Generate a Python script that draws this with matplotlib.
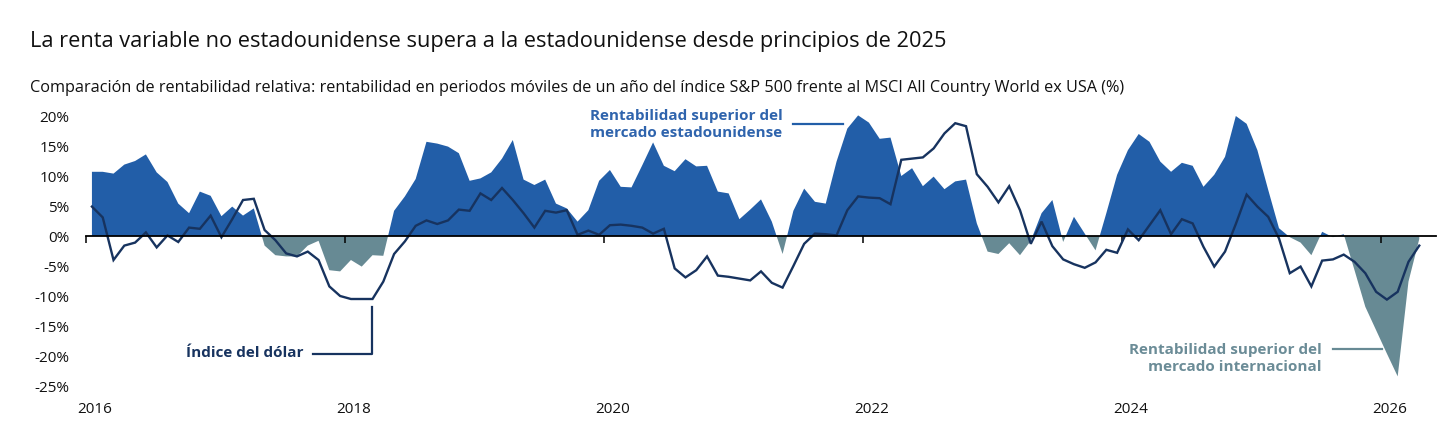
import numpy as np
import matplotlib
matplotlib.use("Agg")
import matplotlib.pyplot as plt
from matplotlib.transforms import ScaledTranslation
from matplotlib.lines import Line2D

plt.rcParams['font.family'] = ['Open Sans', 'DejaVu Sans']

# ---------------- data ----------------
title = "La renta variable no estadounidense supera a la estadounidense desde principios de 2025"
subtitle = ("Comparación de rentabilidad relativa: rentabilidad en periodos móviles de un año del índice "
            "S&P 500 frente al MSCI All Country World ex USA (%)")

year_labels = ["2016", "2018", "2020", "2022", "2024", "2026"]
year_ticks = [0, 24, 48, 72, 96, 120]          # months since Jan 2016
ytick_vals = [20, 15, 10, 5, 0, -5, -10, -15, -20, -25]

# S&P 500 minus MSCI ACWI ex USA, rolling 1-year (%), monthly from Jan 2016
relative = [
    10.7, 10.7, 10.4, 11.9, 12.5, 13.6, 10.6, 9.0, 5.4, 3.8, 7.4, 6.7,
    3.3, 4.9, 3.4, 4.6, -1.6, -3.2, -3.4, -3.4, -1.6, -0.8, -5.7, -5.9,
    -4.0, -5.1, -3.2, -3.3, 4.2, 6.6, 9.5, 15.7, 15.4, 14.9, 13.8, 9.2,
    9.6, 10.6, 12.9, 16.0, 9.4, 8.5, 9.4, 5.4, 4.6, 2.4, 4.3, 9.2,
    11.0, 8.2, 8.1, 11.8, 15.6, 11.7, 10.8, 12.8, 11.6, 11.7, 7.4, 7.1,
    2.8, 4.4, 6.1, 2.4, -3.0, 4.2, 7.9, 5.7, 5.4, 12.4, 17.9, 20.1,
    18.9, 16.2, 16.4, 10.0, 11.3, 8.3, 9.9, 7.8, 9.1, 9.4, 2.1, -2.6,
    -3.0, -1.2, -3.2, -0.8, 3.8, 6.0, -1.0, 3.2, 0.4, -2.4, 3.8, 10.2,
    14.3, 17.0, 15.7, 12.4, 10.7, 12.2, 11.7, 8.2, 10.2, 13.2, 20.0, 18.7,
    14.3, 7.7, 1.3, -0.2, -1.1, -3.2, 0.7, -0.2, 0.3, -5.7, -11.8, -15.7,
    -19.6, -23.4, -7.6, -0.5,
]

# Dollar index, rolling 1-year change (%)
dollar = [
    4.9, 3.1, -4.0, -1.6, -1.1, 0.6, -1.9, 0.1, -1.0, 1.4, 1.2, 3.4,
    -0.2, 2.8, 6.0, 6.2, 1.0, -0.7, -2.9, -3.4, -2.6, -4.0, -8.4, -10.0,
    -10.5, -10.5, -10.5, -7.6, -3.0, -0.9, 1.7, 2.6, 2.0, 2.6, 4.4, 4.2,
    7.1, 6.0, 8.0, 6.0, 3.8, 1.4, 4.2, 3.9, 4.3, 0.2, 0.9, 0.2,
    1.8, 1.9, 1.7, 1.4, 0.4, 1.2, -5.4, -6.9, -5.7, -3.4, -6.6, -6.8,
    -7.1, -7.4, -5.9, -7.8, -8.6, -5.0, -1.3, 0.4, 0.3, 0.1, 4.3, 6.6,
    6.4, 6.3, 5.3, 12.7, 12.9, 13.1, 14.6, 17.1, 18.8, 18.3, 10.3, 8.2,
    5.6, 8.3, 4.3, -1.3, 2.4, -1.7, -3.9, -4.7, -5.3, -4.4, -2.3, -2.8,
    1.1, -0.7, 1.8, 4.3, 0.3, 2.8, 2.1, -1.8, -5.1, -2.6, 2.0, 6.9,
    4.9, 3.2, -0.4, -6.2, -5.1, -8.4, -4.1, -3.9, -3.1, -4.3, -6.2, -9.3,
    -10.6, -9.3, -4.3, -1.6,
]

label_us = "Rentabilidad superior del\nmercado estadounidense"
label_dollar = "Índice del dólar"
label_intl = "Rentabilidad superior del\nmercado internacional"

# ---------------- style ----------------
C_US = "#225EA8"
C_INTL = "#678A94"
C_LINE = "#17335F"
C_US_TXT = "#2F64AD"
C_INTL_TXT = "#6B8C97"
C_TEXT = "#111111"

W, H = 1440, 436
fig = plt.figure(figsize=(W / 100, H / 100), dpi=100)

ax_left, ax_right = 86, 1436
y_top_px, y_bot_px = 110, 395
ax = fig.add_axes([ax_left / W, 1 - y_bot_px / H, (ax_right - ax_left) / W, (y_bot_px - y_top_px) / H])

rel = np.array(relative)
dol = np.array(dollar)
x = np.arange(len(rel)) + 0.55

ax.fill_between(x, rel, 0, where=rel >= 0, interpolate=True, color=C_US, lw=0)
ax.fill_between(x, rel, 0, where=rel <= 0, interpolate=True, color=C_INTL, lw=0)
ax.plot(x, dol, color=C_LINE, lw=1.7, solid_joinstyle='miter')

ax.set_xlim(0, 125.1)
ax.set_ylim(-26.5, 21)

for s in ['top', 'right', 'left']:
    ax.spines[s].set_visible(False)
ax.spines['bottom'].set_position(('data', 0))
ax.spines['bottom'].set_color('black')
ax.spines['bottom'].set_linewidth(1.3)
ax.set_xticks(year_ticks)
ax.tick_params(axis='x', direction='out', length=5, width=1.1, color='black', labelbottom=False)

ax.set_yticks(ytick_vals)
ax.set_yticklabels([f"{v}%" for v in ytick_vals])
ax.tick_params(axis='y', length=0, pad=12, labelsize=11, labelcolor=C_TEXT)

sec = ax.secondary_xaxis('bottom')
sec.set_xticks(year_ticks)
sec.set_xticklabels(year_labels)
sec.tick_params(length=0, pad=5, labelsize=11, labelcolor=C_TEXT)
sec.spines['bottom'].set_visible(False)
off = ScaledTranslation(8.5 / 100, 0, fig.dpi_scale_trans)
for lab in sec.get_xticklabels():
    lab.set_transform(lab.get_transform() + off)

# titles
fig.text(30 / W, 1 - 42 / H, title, fontsize=15.7, color=C_TEXT, va='center', ha='left', fontweight='medium')
fig.text(30 / W, 1 - 88 / H, subtitle, fontsize=11.7, color=C_TEXT, va='center', ha='left')

def fx(px):
    return px / W

def fy(py):
    return 1 - py / H

# annotations
fig.text(fx(590), fy(124.5), label_us, color=C_US_TXT, fontsize=11, fontweight='bold',
         va='center', ha='left', linespacing=1.28)
fig.add_artist(Line2D([fx(793), fx(843)], [fy(124), fy(124)], color=C_US, lw=1.6))

fig.text(fx(303), fy(353), label_dollar, color=C_LINE, fontsize=11, fontweight='bold',
         va='center', ha='right')
fig.add_artist(Line2D([fx(313), fx(372), fx(372)], [fy(354), fy(354), fy(307)], color=C_LINE, lw=1.6))

fig.text(fx(1322), fy(358.5), label_intl, color=C_INTL_TXT, fontsize=11, fontweight='bold',
         va='center', ha='right', linespacing=1.28, multialignment='right')
fig.add_artist(Line2D([fx(1333), fx(1382)], [fy(349), fy(349)], color=C_INTL, lw=1.6))

fig.savefig("out.png", dpi=100, facecolor='white')
